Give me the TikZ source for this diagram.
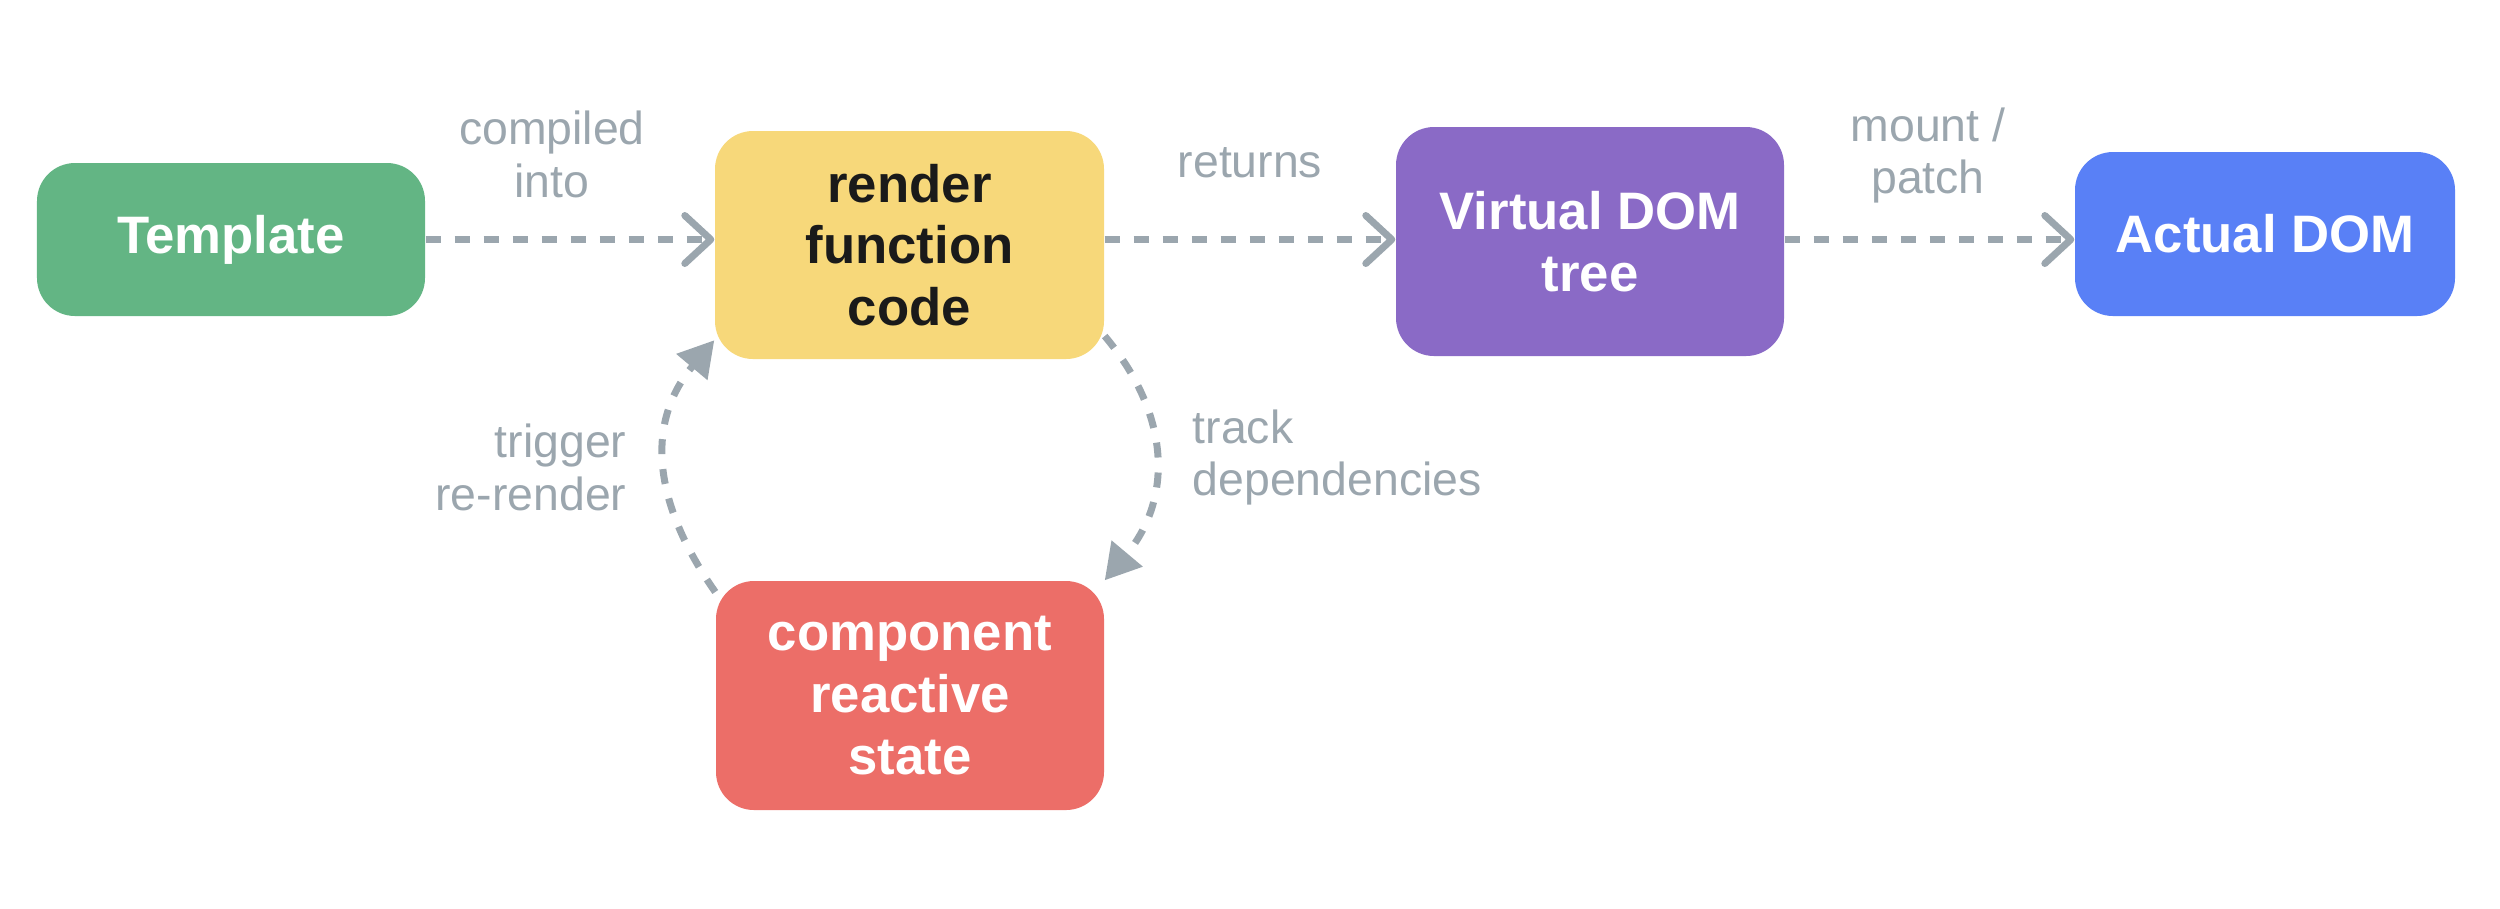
\documentclass[tikz,border=0pt]{standalone}
\usepackage{fontspec}
\setmainfont{Liberation Sans}
\usetikzlibrary{arrows.meta}
\definecolor{tplgreen}{RGB}{99,181,132}
\definecolor{rfyellow}{RGB}{247,216,122}
\definecolor{vdpurple}{RGB}{138,106,198}
\definecolor{adblue}{RGB}{89,128,246}
\definecolor{stred}{RGB}{236,110,104}
\definecolor{lblgray}{RGB}{155,166,174}
\definecolor{inkblack}{RGB}{26,26,26}
\begin{document}
\begin{tikzpicture}[
    box/.style={rounded corners=0.38cm, minimum width=3.88cm, inner sep=0pt, align=center, text=white, font=\fontsize{15}{17.6}\selectfont\bfseries},
    lbl/.style={text=lblgray, inner sep=0pt, font=\fontsize{13.2}{15}\selectfont},
    flow/.style={draw=lblgray, line width=0.07cm, dash pattern=on 0.15cm off 0.14cm, -{Straight Barb[length=0.26cm, width=0.48cm, round]}},
    feedback/.style={draw=lblgray, line width=0.07cm, dash pattern=on 0.15cm off 0.15cm, -{Triangle[length=0.35cm, width=0.39cm]}}
  ]
    \useasboundingbox (0,0) rectangle (25,-9.08);
    \node[box, fill=tplgreen, minimum height=1.53cm] (template) at (2.31,-2.395) {Template};
    \node[box, fill=rfyellow, text=inkblack, minimum width=3.89cm, minimum height=2.28cm] (render) at (9.095,-2.45) {render\\function\\code};
    \node[box, fill=vdpurple, minimum height=2.29cm] (vdom) at (15.90,-2.415) {Virtual DOM\\tree};
    \node[box, fill=adblue, minimum width=3.80cm, minimum height=1.64cm] (actual) at (22.65,-2.34) {Actual DOM};
    \node[box, fill=stred, minimum height=2.29cm] (state) at (9.10,-6.955) {component\\reactive\\state};
    \draw[flow] (template.east) -- (template.east -| render.west);
    \draw[flow] (render.east |- template.east) -- (template.east -| vdom.west);
    \draw[flow] (vdom.east |- template.east) -- (template.east -| actual.west);
    \draw[feedback] (render.-25) to[out=-50, in=50, looseness=1.1] (state.north east);
    \draw[feedback] (state.152) to[out=125, in=-130, looseness=1.1] (render.206);
    \node[lbl, align=center] (compiled) at (5.52,-1.545) {compiled\\into};
    \node[lbl, anchor=base] (returns) at (12.50,-1.77) {returns};
    \node[lbl, align=center] (mount) at (19.28,-1.555) {mount /\\patch};
    \node[lbl, align=right, anchor=east] (trigger) at (6.27,-4.675) {trigger\\re-render};
    \node[lbl, align=left, anchor=west] (track) at (11.92,-4.575) {track\\dependencies};
  \end{tikzpicture}
\end{document}
